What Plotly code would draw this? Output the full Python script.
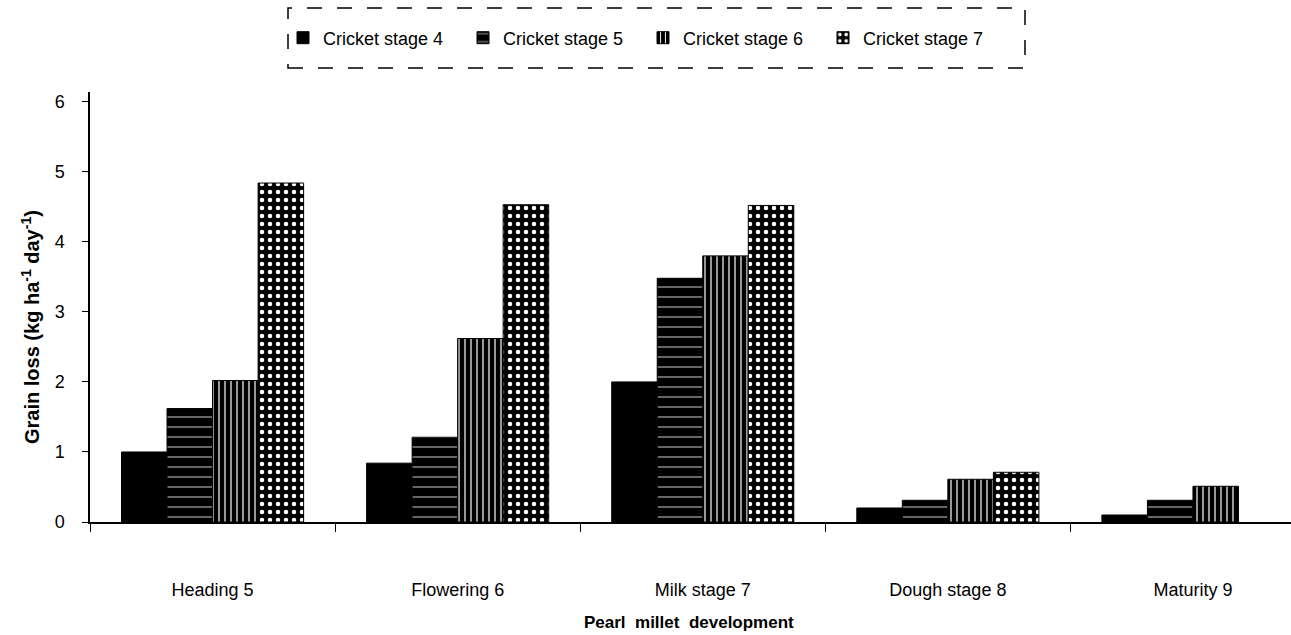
import plotly.graph_objects as go

categories = ["Heading 5", "Flowering 6", "Milk stage 7", "Dough stage 8", "Maturity 9"]
series_names = ["Cricket stage 4", "Cricket stage 5", "Cricket stage 6", "Cricket stage 7"]
stage4 = [1.0, 0.84, 2.0, 0.2, 0.1]
stage5 = [1.62, 1.21, 3.48, 0.31, 0.31]
stage6 = [2.02, 2.62, 3.8, 0.61, 0.51]
stage7 = [4.84, 4.53, 4.52, 0.71, None]
y_ticks = [0, 1, 2, 3, 4, 5, 6]

FONT = "Liberation Sans, Arial, sans-serif"

patterns = [
    None,
    dict(shape="-", fgcolor="white", bgcolor="black", size=10, solidity=0.08, fillmode="replace"),
    dict(shape="|", fgcolor="white", bgcolor="black", size=6, solidity=0.2, fillmode="replace"),
    dict(shape=".", fgcolor="white", bgcolor="black", size=8, solidity=0.25, fillmode="replace"),
]

fig = go.Figure()
for name, vals, pat in zip(series_names, [stage4, stage5, stage6, stage7], patterns):
    marker = dict(color="black", line=dict(color="black", width=1))
    if pat is not None:
        marker["pattern"] = pat
    fig.add_trace(go.Bar(x=categories, y=vals, name=name, marker=marker))

fig.update_layout(
    width=1291, height=635,
    margin=dict(l=90, r=0, t=92, b=113),
    plot_bgcolor="white", paper_bgcolor="white",
    barmode="group", bargap=0.257, bargroupgap=0,
    font=dict(family=FONT, color="black", size=16),
    legend=dict(orientation="h", x=(283 - 90) / 1201, xanchor="left",
                y=(522 - 38) / 430, yanchor="middle",
                entrywidth=135, entrywidthmode="pixels",
                font=dict(size=18, family=FONT), bgcolor="rgba(0,0,0,0)",
                traceorder="normal"),
    shapes=[dict(type="rect", xref="paper", yref="paper",
                 x0=(288 - 90) / 1201, x1=(1025 - 90) / 1201,
                 y0=(522 - 68) / 430, y1=(522 - 8) / 430,
                 line=dict(color="black", width=1.5, dash="longdash"))],
    annotations=[
        dict(text="<b>Pearl  millet  development</b>", xref="paper", yref="paper",
             x=(689 - 90) / 1201, y=(522 - 622) / 430, xanchor="center", yanchor="middle",
             showarrow=False, font=dict(size=17, family=FONT)),
        dict(text="<b>Grain loss (kg ha<sup>-1</sup> day<sup>-1</sup>)</b>", xref="paper", yref="paper",
             x=(30 - 90) / 1201, y=(522 - 327) / 430, xanchor="center", yanchor="middle",
             textangle=-90, showarrow=False, font=dict(size=20, family=FONT)),
    ],
)

fig.update_xaxes(type="category", range=[-0.5, 4.4], showline=True, linecolor="black", linewidth=1.5,
                 ticks="outside", tickson="boundaries", ticklen=8, tickcolor="black",
                 tickfont=dict(size=18, family=FONT), ticklabelstandoff=51, showgrid=False)
fig.update_yaxes(range=[0, 6.14], tickvals=y_ticks, showline=True, linecolor="black", linewidth=1.5,
                 ticks="outside", ticklen=6, tickcolor="black", tickfont=dict(size=18, family=FONT),
                 ticklabelstandoff=14, showgrid=False, zeroline=False)

fig.write_html("out.html", config={"displayModeBar": False},
               post_script="document.body.style.margin='0';")
